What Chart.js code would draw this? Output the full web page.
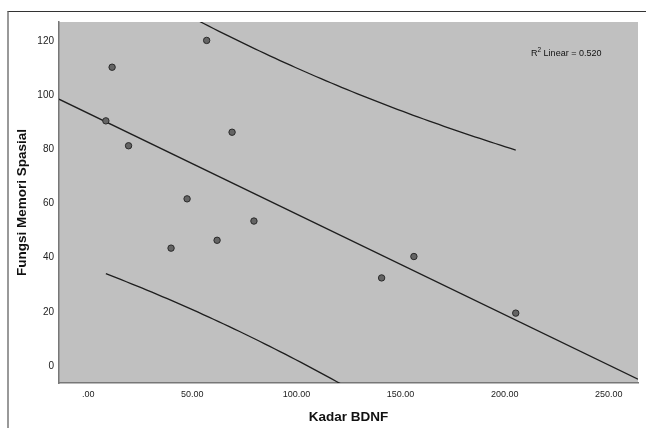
<!DOCTYPE html>
<html lang="id">
<head>
    <meta charset="UTF-8">
    <title>Kadar BDNF vs Fungsi Memori Spasial</title>
    <script src="https://cdn.jsdelivr.net/npm/chart.js"></script>
    <style>
        body { margin: 0; background: #fff; }
        .wrap { position: relative; width: 646px; height: 428px; }
        .frame {
            position: absolute; left: 7px; top: 11px; right: 0; bottom: 0;
            border-top: 1px solid #333; border-left: 2px solid #999;
        }
        canvas { position: absolute; left: 0; top: 0; }
    </style>
</head>
<body>
<div class="wrap">
    <div class="frame"></div>
    <canvas id="chart" width="646" height="428"></canvas>
</div>
<script>
    // data
    const kadarBDNF = [11.5, 8.5, 19.4, 56.9, 69.1, 47.5, 39.8, 61.9, 79.6, 156.4, 140.9, 205.3];
    const memoriSpasial = [110.3, 90.5, 81.3, 120.2, 86.3, 61.7, 43.5, 46.4, 53.5, 40.4, 32.5, 19.5];
    const xTicks = [0, 50, 100, 150, 200, 250];
    const yTicks = [0, 20, 40, 60, 80, 100, 120];
    const r2Label = "0.520";
    const tCrit = 2.228; // t(0.975, df = 10)

    const xMin = -14, xMax = 264, yMin = -6.3, yMax = 127;

    // least squares fit + 95% prediction interval
    const n = kadarBDNF.length;
    const mx = kadarBDNF.reduce((a, b) => a + b, 0) / n;
    const my = memoriSpasial.reduce((a, b) => a + b, 0) / n;
    let sxx = 0, sxy = 0;
    kadarBDNF.forEach((x, i) => { sxx += (x - mx) ** 2; sxy += (x - mx) * (memoriSpasial[i] - my); });
    const slope = sxy / sxx, icpt = my - slope * mx;
    let sse = 0;
    kadarBDNF.forEach((x, i) => { sse += (memoriSpasial[i] - (icpt + slope * x)) ** 2; });
    const s = Math.sqrt(sse / (n - 2));

    const fitLine = [xMin, xMax].map(x => ({ x: x, y: icpt + slope * x }));
    const lo = Math.min(...kadarBDNF), hi = Math.max(...kadarBDNF);
    const upper = [], lower = [];
    for (let k = 0; k <= 80; k++) {
        const x = lo + (hi - lo) * k / 80;
        const h = tCrit * s * Math.sqrt(1 + 1 / n + (x - mx) ** 2 / sxx);
        upper.push({ x: x, y: icpt + slope * x + h });
        lower.push({ x: x, y: icpt + slope * x - h });
    }

    const plotBg = {
        id: 'plotBg',
        beforeDraw(chart) {
            const { ctx, chartArea: a } = chart;
            ctx.save();
            ctx.fillStyle = '#c0c0c0';
            ctx.fillRect(a.left, a.top, a.right - a.left, a.bottom - a.top);
            ctx.restore();
        },
        afterDraw(chart) {
            const { ctx, chartArea: a } = chart;
            ctx.save();
            ctx.fillStyle = '#111';
            ctx.textBaseline = 'alphabetic';
            let x = a.right - 107, y = a.top + 34;
            ctx.font = '9px "Liberation Sans", Arial, sans-serif';
            ctx.fillText('R', x, y);
            x += ctx.measureText('R').width;
            ctx.font = '6.5px "Liberation Sans", Arial, sans-serif';
            ctx.fillText('2', x, y - 4);
            x += ctx.measureText('2').width;
            ctx.font = '9px "Liberation Sans", Arial, sans-serif';
            ctx.fillText(' Linear = ' + r2Label, x, y);
            ctx.restore();
        }
    };

    const lineStyle = { showLine: true, pointRadius: 0, borderColor: '#1e1e1e', borderWidth: 1.3, clip: 0, fill: false };

    new Chart(document.getElementById('chart'), {
        type: 'scatter',
        data: {
            datasets: [
                {
                    data: kadarBDNF.map((x, i) => ({ x: x, y: memoriSpasial[i] })),
                    pointRadius: 3.2,
                    backgroundColor: '#646464',
                    borderColor: '#2a2a2a',
                    borderWidth: 1
                },
                Object.assign({ data: fitLine }, lineStyle),
                Object.assign({ data: upper }, lineStyle),
                Object.assign({ data: lower }, lineStyle)
            ]
        },
        options: {
            responsive: false,
            animation: false,
            events: [],
            layout: { padding: { left: 0, top: 22, right: 8, bottom: 0 } },
            plugins: { legend: { display: false }, tooltip: { enabled: false } },
            scales: {
                x: {
                    type: 'linear', min: xMin, max: xMax,
                    afterFit: sc => { sc.height = 45; },
                    afterBuildTicks: sc => { sc.ticks = xTicks.map(v => ({ value: v })); },
                    grid: { display: false, drawTicks: false },
                    border: { display: true, color: '#777', width: 1.5 },
                    ticks: {
                        padding: 6, color: '#222',
                        font: { family: '"Liberation Sans", Arial, sans-serif', size: 9 },
                        callback: v => v === 0 ? '.00' : v.toFixed(2)
                    },
                    title: {
                        display: true, text: 'Kadar BDNF', color: '#111',
                        font: { family: '"Liberation Sans", Arial, sans-serif', size: 13.5, weight: 'bold' },
                        padding: { top: 0, bottom: 3 }
                    }
                },
                y: {
                    type: 'linear', min: yMin, max: yMax,
                    afterFit: sc => { sc.width = 59; },
                    afterBuildTicks: sc => { sc.ticks = yTicks.map(v => ({ value: v })); },
                    grid: { display: false, drawTicks: false },
                    border: { display: true, color: '#777', width: 1.5 },
                    ticks: {
                        padding: 5, color: '#222',
                        font: { family: '"Liberation Sans", Arial, sans-serif', size: 10 }
                    },
                    title: {
                        display: true, text: 'Fungsi Memori Spasial', color: '#111',
                        font: { family: '"Liberation Sans", Arial, sans-serif', size: 13.5, weight: 'bold' },
                        padding: { top: 14, bottom: 0 }
                    }
                }
            }
        },
        plugins: [plotBg]
    });
</script>
</body>
</html>
